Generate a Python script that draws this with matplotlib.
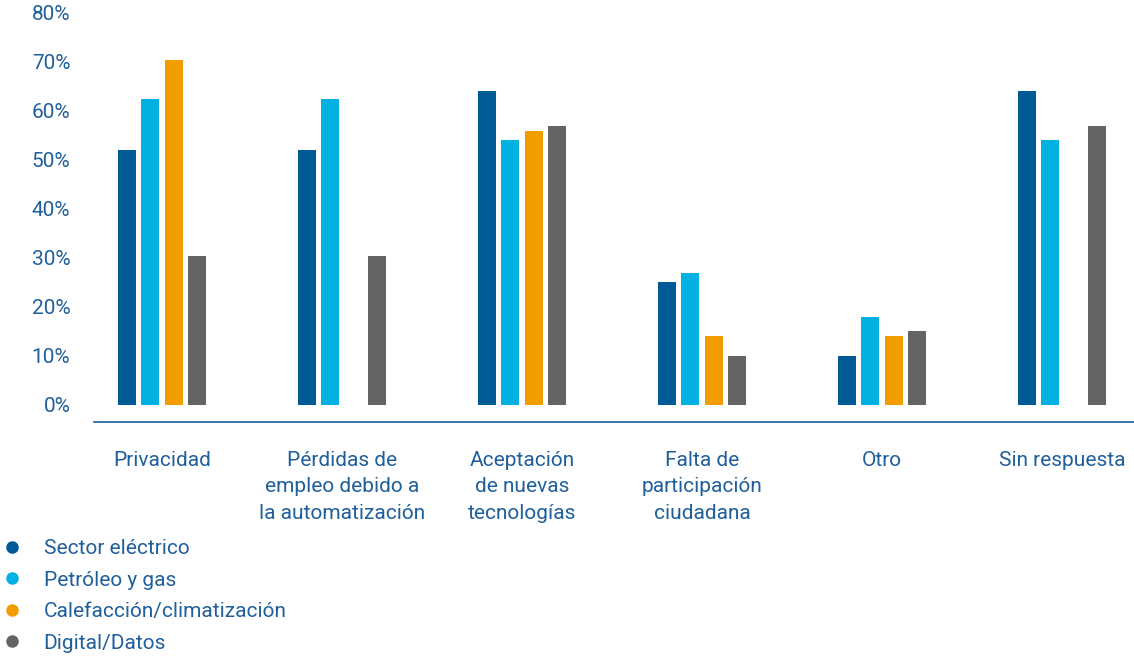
import numpy as np
import matplotlib.pyplot as plt
from matplotlib.lines import Line2D

categories = ["Privacidad", "Pérdidas de\nempleo debido a\nla automatización",
              "Aceptación\nde nuevas\ntecnologías", "Falta de\nparticipación\nciudadana",
              "Otro", "Sin respuesta"]
series_names = ["Sector eléctrico", "Petróleo y gas", "Calefacción/climatización", "Digital/Datos"]
electrico = [52, 52, 64, 25, 10, 64]
petroleo = [62.5, 62.5, 54, 27, 18, 54]
calefaccion = [70.5, None, 56, 14, 14, None]
digital = [30.5, 30.5, 57, 10, 15, 57]
colors = ["#005a96", "#00b1e1", "#f39c00", "#646464"]
text_color = "#1f5f9c"

plt.rcParams['font.family'] = ['Roboto', 'DejaVu Sans']

fig = plt.figure(figsize=(11.34, 6.56), dpi=100)
ax = fig.add_axes([94 / 1134, 1 - 422 / 656, 1 - 94 / 1134, (422 - 13) / 656])

x = np.arange(len(categories))
offsets = [-1.5, -0.5, 0.5, 1.5]
for vals, off, col in zip([electrico, petroleo, calefaccion, digital], offsets, colors):
    xs = [xi + off * 0.13 for xi, v in zip(x, vals) if v is not None]
    hs = [v for v in vals if v is not None]
    ax.bar(xs, hs, width=0.1, color=col)

ax.set_xlim(-0.378, 5.4)
ax.set_ylim(-3.47, 80)
ax.set_yticks(range(0, 81, 10))
ax.set_yticklabels([f"{t}%" for t in range(0, 81, 10)])
ax.set_xticks(x)
ax.set_xticklabels(categories, linespacing=1.48, va='top')
ax.tick_params(axis='both', length=0, labelsize=15, labelcolor=text_color)
ax.tick_params(axis='y', pad=17)
ax.tick_params(axis='x', pad=21)
for s in ['top', 'right', 'left']:
    ax.spines[s].set_visible(False)
ax.spines['bottom'].set_color("#1a5f9e")
ax.spines['bottom'].set_linewidth(1.2)

handles = [Line2D([], [], marker='o', linestyle='none', markersize=8, color=c) for c in colors]
leg = fig.legend(handles, series_names, loc='upper left', bbox_to_anchor=(0.0, 1 - 535 / 656),
                 frameon=False, fontsize=15, handlelength=0.8, handletextpad=1.1,
                 labelspacing=0.6, borderaxespad=0, borderpad=0.2)
for t in leg.get_texts():
    t.set_color(text_color)

fig.savefig("out.png", dpi=100)
